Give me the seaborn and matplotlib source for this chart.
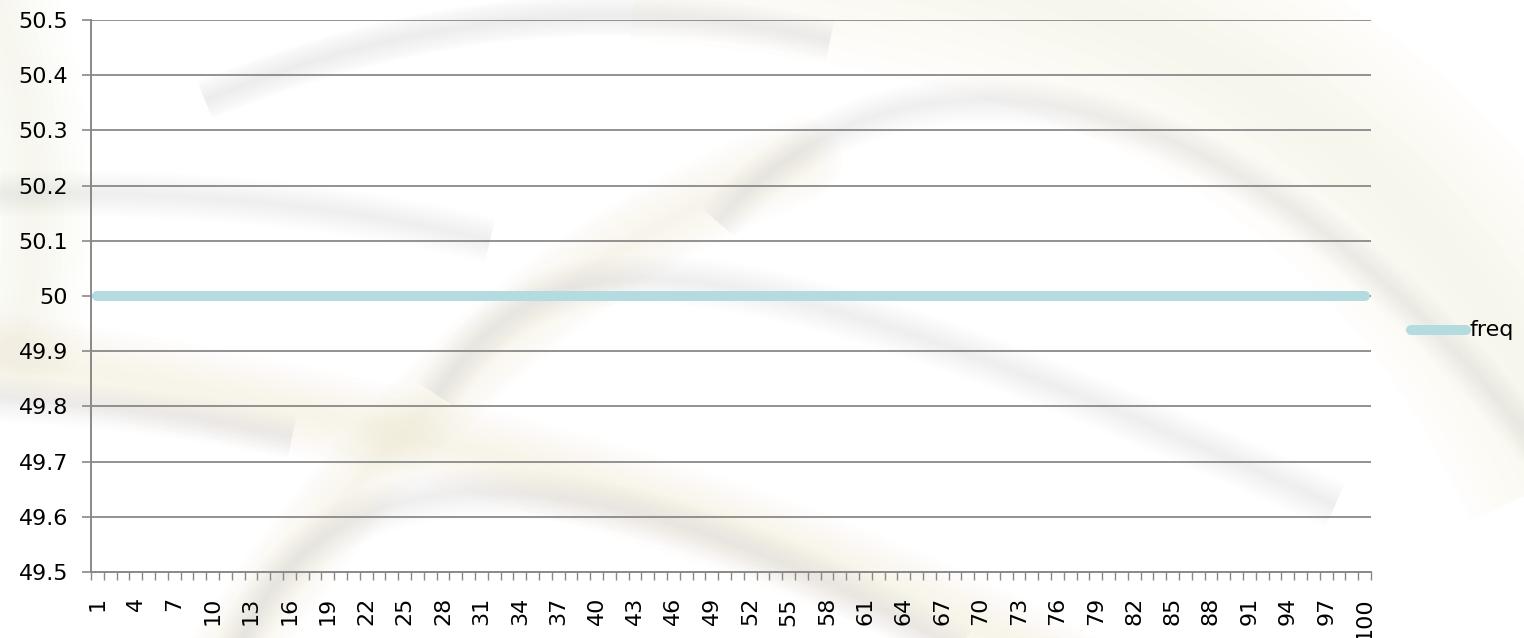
import numpy as np
import pandas as pd
import matplotlib
matplotlib.use("Agg")
import matplotlib.pyplot as plt
from matplotlib.path import Path
from matplotlib.patches import PathPatch
import seaborn as sns

# Sample index and measured frequency (Hz)
samples = list(range(1, 101))
freq = [
    50.0, 50.0, 50.0, 50.0, 50.0, 50.0, 50.0, 50.0, 50.0, 50.0,
    50.0, 50.0, 50.0, 50.0, 50.0, 50.0, 50.0, 50.0, 50.0, 50.0,
    50.0, 50.0, 50.0, 50.0, 50.0, 50.0, 50.0, 50.0, 50.0, 50.0,
    50.0, 50.0, 50.0, 50.0, 50.0, 50.0, 50.0, 50.0, 50.0, 50.0,
    50.0, 50.0, 50.0, 50.0, 50.0, 50.0, 50.0, 50.0, 50.0, 50.0,
    50.0, 50.0, 50.0, 50.0, 50.0, 50.0, 50.0, 50.0, 50.0, 50.0,
    50.0, 50.0, 50.0, 50.0, 50.0, 50.0, 50.0, 50.0, 50.0, 50.0,
    50.0, 50.0, 50.0, 50.0, 50.0, 50.0, 50.0, 50.0, 50.0, 50.0,
    50.0, 50.0, 50.0, 50.0, 50.0, 50.0, 50.0, 50.0, 50.0, 50.0,
    50.0, 50.0, 50.0, 50.0, 50.0, 50.0, 50.0, 50.0, 50.0, 50.0,
]
series_name = "freq"
y_ticks = [49.5, 49.6, 49.7, 49.8, 49.9, 50.0, 50.1, 50.2, 50.3, 50.4, 50.5]
y_tick_labels = ["49.5", "49.6", "49.7", "49.8", "49.9", "50",
                 "50.1", "50.2", "50.3", "50.4", "50.5"]
x_label_values = samples[::3]

df = pd.DataFrame({"sample": samples, "freq": freq, "series": series_name})

sns.set_theme(style="white")
plt.rcParams["font.family"] = ["DejaVu Sans"]

W, H = 1524, 638
fig = plt.figure(figsize=(W / 100, H / 100), dpi=100)
fig.patch.set_facecolor("white")


# Decorative watermark: soft sweeping bands behind the chart
def soft_band(pts, width_px, color, alpha, layers=8, cap="butt"):
    n = len(pts)
    codes = [Path.MOVETO] + ([Path.CURVE4] * 3 if n == 4 else [Path.CURVE3] * 2)
    verts = [(x / W, 1 - y / H) for x, y in pts]
    path = Path(verts, codes)
    per = 1 - (1 - alpha) ** (1 / layers)
    for i in range(layers):
        w = width_px * (1 - i / layers) * 0.72
        fig.add_artist(PathPatch(path, facecolor="none", edgecolor=color,
                                 lw=w, alpha=per, capstyle=cap,
                                 transform=fig.transFigure, zorder=0))


beige = (0.95, 0.91, 0.80)
grey = (0.80, 0.80, 0.80)

# warm bands
soft_band([(640, -80), (1150, -40), (1420, 120), (1580, 470)], 240, beige, 0.33)
soft_band([(-40, 350), (380, 415), (760, 505), (1080, 680)], 90, beige, 0.38,
          cap="round")
soft_band([(200, 700), (380, 420), (560, 250), (800, 160)], 85, beige, 0.35,
          cap="round")
soft_band([(-20, -40), (60, 150), (20, 340)], 120, beige, 0.28, cap="round")

# grey bands
soft_band([(205, 100), (520, -30), (830, 40)], 40, grey, 0.3)
soft_band([(-20, 195), (260, 185), (490, 240)], 45, grey, 0.26)
soft_band([(718, 222), (870, 40), (1200, 20), (1540, 450)], 45, grey, 0.28)
soft_band([(437, 395), (540, 230), (700, 220), (1335, 505)], 48, grey, 0.28)
soft_band([(-20, 398), (150, 405), (292, 437)], 45, grey, 0.26)
soft_band([(238, 650), (330, 420), (620, 460), (960, 650)], 48, grey, 0.28)

ax = fig.add_axes([91 / W, 1 - 572 / H, (1371 - 91) / W, (572 - 20) / H])
ax.set_facecolor("none")

line_color = "#b4dbdf"
sns.lineplot(data=df, x="sample", y="freq", hue="series",
             palette=[line_color], linewidth=7.2, ax=ax,
             legend=False, zorder=5)
for ln in ax.lines:
    ln.set_solid_capstyle("round")

grid_color = "#898989"
ax.set_xlim(0.5, 100.5)
ax.set_ylim(49.5, 50.5)
ax.set_yticks(y_ticks)
ax.set_yticklabels(y_tick_labels)
for y in y_ticks[1:]:
    ax.axhline(y, color=grid_color, lw=1.3, zorder=1)

# category boundaries carry minor ticks; every third category is labelled
ax.set_xticks(x_label_values)
ax.set_xticklabels([str(v) for v in x_label_values], rotation=90)
ax.set_xticks(np.arange(0.5, 101.0, 1.0), minor=True)
ax.tick_params(axis="x", which="major", length=0, pad=18, labelsize=16,
               labelcolor="black")
ax.tick_params(axis="x", which="minor", length=5.5, width=1.0,
               color=grid_color, direction="out", bottom=True)
ax.tick_params(axis="y", which="major", length=6.5, width=1.2,
               color=grid_color, direction="out", left=True, pad=10,
               labelsize=16, labelcolor="black")

for side in ("top", "right"):
    ax.spines[side].set_visible(False)
for side in ("left", "bottom"):
    ax.spines[side].set_color(grid_color)
    ax.spines[side].set_linewidth(1.4)
ax.set_xlabel("")
ax.set_ylabel("")

# legend entry at the right
fig.add_artist(plt.Line2D([1411 / W, 1466 / W], [1 - 330 / H, 1 - 330 / H],
                          color=line_color, lw=7.2, solid_capstyle="round",
                          transform=fig.transFigure))
fig.text(1469 / W, 1 - 330 / H, series_name, fontsize=16, va="center",
         ha="left", color="black")

fig.savefig("out.png", dpi=100)
